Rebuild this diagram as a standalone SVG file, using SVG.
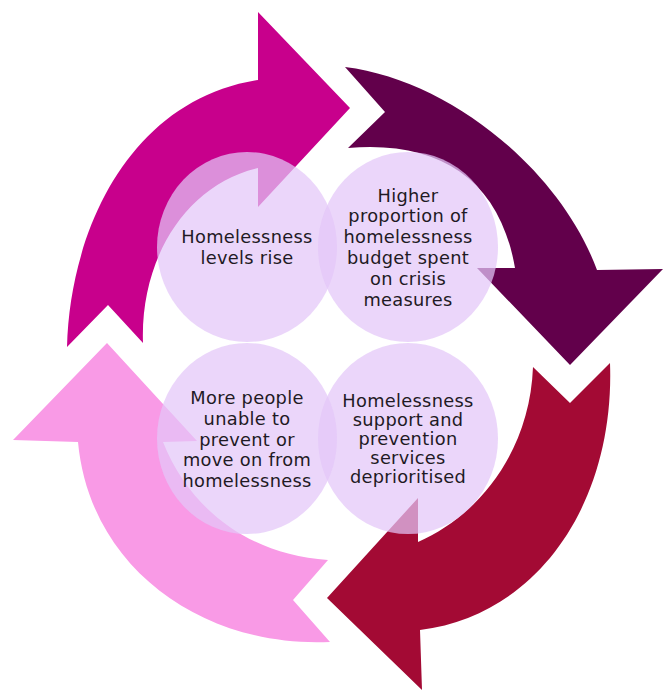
<svg xmlns="http://www.w3.org/2000/svg" width="664" height="691" viewBox="0 0 664 691">
<style>
.bg{fill:#ffffff}
.node{fill:#E3C6F8;fill-opacity:0.72}
.lbl{font-family:"DejaVu Sans","Open Sans",sans-serif;font-size:17.8px;letter-spacing:0.3px;fill:#1f1a24;text-anchor:middle}
.a1{fill:#C8008C}
.a2{fill:#62004B}
.a3{fill:#A30A34}
.a4{fill:#F99AE6}
</style>
<rect class="bg" x="0" y="0" width="664" height="691"/>
<g id="connectors">
<path class="a1" d="M67,347 C70,230 130,100 258,80 L258,12 L350,108 L258,207 L258,168 C185,185 140,260 143,343 L108,305 Z"/>
<path class="a2" d="M345,67 C450,80 560,170 597,270 L663,269 L570,365 L477,268 L515,268 C500,180 440,140 348,148 L385,112 Z"/>
<path class="a3" d="M610,363 C615,500 540,615 420,630 L422,690 L327,598 L418,498 L418,542 C480,515 530,450 533,367 L570,403 Z"/>
<path class="a4" d="M330,642 C205,648 90,570 78,442 L13,440 L107,343 L197,441 L163,442 C190,510 250,555 328,560 L293,600 Z"/>
</g>
<g id="node-levels-rise">
<ellipse class="node" cx="247" cy="247" rx="90" ry="95"/>
<text class="lbl" x="247" y="243.1">Homelessness<tspan x="247" dy="20.8">levels rise</tspan></text>
</g>
<g id="node-crisis-budget">
<ellipse class="node" cx="408" cy="247" rx="90" ry="95"/>
<text class="lbl" x="408" y="201.5">Higher<tspan x="408" dy="20.8">proportion of</tspan><tspan x="408" dy="20.8">homelessness</tspan><tspan x="408" dy="20.8">budget spent</tspan><tspan x="408" dy="20.8">on crisis</tspan><tspan x="408" dy="20.8">measures</tspan></text>
</g>
<g id="node-deprioritised">
<ellipse class="node" cx="408" cy="438.5" rx="90" ry="95.5"/>
<text class="lbl" x="408" y="406.5">Homelessness<tspan x="408" dy="19.1">support and</tspan><tspan x="408" dy="19.1">prevention</tspan><tspan x="408" dy="19.1">services</tspan><tspan x="408" dy="19.1">deprioritised</tspan></text>
</g>
<g id="node-unable">
<ellipse class="node" cx="247" cy="438.5" rx="90" ry="95.5"/>
<text class="lbl" x="247" y="404">More people<tspan x="247" dy="20.75">unable to</tspan><tspan x="247" dy="20.75">prevent or</tspan><tspan x="247" dy="20.75">move on from</tspan><tspan x="247" dy="20.75">homelessness</tspan></text>
</g>
</svg>
